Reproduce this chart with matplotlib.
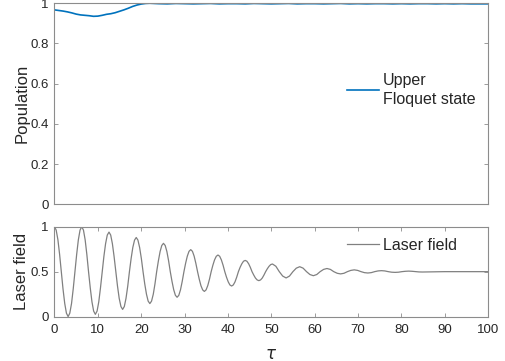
import numpy as np
import matplotlib
matplotlib.use("Agg")
import matplotlib.pyplot as plt

plt.rcParams['font.family'] = ['Liberation Sans', 'DejaVu Sans']

# Upper Floquet state population
pop_tau = [0, 1, 2, 3, 4, 5, 6, 7, 8, 9, 10, 11, 12, 13, 14, 15, 16, 17, 18, 19,
           20, 21, 22, 23, 24, 26, 28, 30, 32, 34, 36, 38, 40, 42, 44, 46, 48, 50,
           52, 54, 56, 58, 60, 62, 64, 66, 68, 70, 72, 74, 76, 78, 80, 82, 84, 86,
           88, 90, 92, 94, 96, 98, 100]
pop_val = [0.967, 0.964, 0.961, 0.957, 0.952, 0.946, 0.942, 0.940, 0.938, 0.935,
           0.936, 0.940, 0.945, 0.948, 0.953, 0.960, 0.967, 0.975, 0.984, 0.991,
           0.996, 0.999, 1.000, 0.999, 0.998, 0.997, 0.999, 0.998, 0.997, 0.998,
           0.999, 0.997, 0.998, 0.998, 0.997, 0.999, 0.998, 0.997, 0.998, 0.999,
           0.997, 0.998, 0.998, 0.997, 0.998, 0.999, 0.997, 0.998, 0.997, 0.998,
           0.998, 0.997, 0.998, 0.997, 0.998, 0.998, 0.997, 0.998, 0.997, 0.998,
           0.997, 0.997, 0.997]

# Laser field (dense where it swings, sparser later)
laser_tau = [0, 0.39, 0.79, 1.18, 1.57, 1.96, 2.36, 2.75, 3.14, 3.53, 3.93, 4.32,
             4.71, 5.11, 5.50, 5.89, 6.28, 6.68, 7.07, 7.46, 7.85, 8.25, 8.64, 9.03,
             9.42, 9.82, 10.21, 10.60, 11.00, 11.39, 11.78, 12.17, 12.57, 12.96,
             13.35, 13.74, 14.14, 14.53, 14.92, 15.32, 15.71, 16.10, 16.49, 16.89,
             17.28, 17.67, 18.06, 18.46, 18.85, 19.24, 19.63, 20.03, 20.42, 20.81,
             21.21, 21.60, 21.99, 22.38, 22.78, 23.17, 23.56, 23.96, 24.35, 24.74,
             25.13, 25.53, 25.92, 26.31, 26.70, 27.10, 27.49, 27.88, 28.27, 28.67,
             29.06, 29.45, 29.85, 30.24, 30.63, 31.02, 31.42, 31.81, 32.20, 32.59,
             32.99, 33.38, 33.77, 34.17, 34.56, 34.95, 35.34, 35.74, 36.13, 36.52,
             36.91, 37.31, 37.70, 38.09, 38.48, 38.88, 39.27, 39.66, 40.06, 40.45,
             40.84, 41.23, 41.63, 42.02, 42.41, 42.80, 43.20, 43.59, 43.98, 44.37,
             44.77, 45.16, 45.55, 45.95, 46.34, 46.73, 47.12, 47.52, 47.91, 48.30,
             48.69, 49.09, 49.48, 49.87, 50.27,
             51.05, 51.84, 52.62, 53.41, 54.19, 54.98, 55.76, 56.55, 57.33, 58.12,
             58.90, 59.69, 60.48, 61.26, 62.05, 62.83, 63.62, 64.40, 65.19, 65.97,
             66.76, 67.54, 68.33, 69.12, 69.90, 70.69, 71.47, 72.26, 73.04, 73.83,
             74.61, 75.40, 76.18, 76.97, 77.75, 78.54, 79.33, 80.11, 80.90, 81.68,
             82.47, 83.25, 84.04, 84.82, 90, 95, 100]
laser_val = [1.0, 0.962, 0.854, 0.691, 0.5, 0.309, 0.146, 0.038,
             0.0, 0.038, 0.146, 0.309, 0.5, 0.691, 0.854, 0.962,
             1.0, 0.962, 0.854, 0.691, 0.5, 0.318, 0.164, 0.061,
             0.025, 0.061, 0.164, 0.318, 0.5, 0.669, 0.811, 0.907,
             0.94, 0.907, 0.811, 0.669, 0.5, 0.339, 0.203, 0.112,
             0.08, 0.112, 0.203, 0.339, 0.5, 0.646, 0.769, 0.851,
             0.88, 0.851, 0.769, 0.646, 0.5, 0.364, 0.249, 0.172,
             0.145, 0.172, 0.249, 0.364, 0.5, 0.621, 0.723, 0.791,
             0.815, 0.791, 0.723, 0.621, 0.5, 0.391, 0.299, 0.237,
             0.215, 0.237, 0.299, 0.391, 0.5, 0.594, 0.673, 0.726,
             0.745, 0.726, 0.673, 0.594, 0.5, 0.416, 0.344, 0.297,
             0.28, 0.297, 0.344, 0.416, 0.5, 0.571, 0.631, 0.671,
             0.685, 0.671, 0.631, 0.571, 0.5, 0.439, 0.387, 0.352,
             0.34, 0.352, 0.387, 0.439, 0.5, 0.548, 0.588, 0.616,
             0.625, 0.616, 0.588, 0.548, 0.5, 0.462, 0.429, 0.408,
             0.40, 0.408, 0.429, 0.462, 0.5, 0.533, 0.56, 0.579,
             0.585,
             0.56, 0.5, 0.451, 0.43, 0.451, 0.5, 0.539, 0.555, 0.539, 0.5,
             0.468, 0.455, 0.468, 0.5, 0.525, 0.535, 0.525, 0.5, 0.482, 0.475,
             0.482, 0.5, 0.514, 0.52, 0.514, 0.5, 0.489, 0.485, 0.489, 0.5,
             0.508, 0.511, 0.508, 0.5, 0.494, 0.492, 0.494, 0.5, 0.504, 0.506,
             0.504, 0.5, 0.497, 0.496, 0.5, 0.5, 0.5]

x_ticks = [0, 10, 20, 30, 40, 50, 60, 70, 80, 90, 100]
pop_ticks = [0, 0.2, 0.4, 0.6, 0.8, 1]
pop_ticklabels = ["0", "0.2", "0.4", "0.6", "0.8", "1"]
laser_ticks = [0, 0.5, 1]
laser_ticklabels = ["0", "0.5", "1"]

axis_col = "#8c8c8c"
text_col = "#262626"

fig = plt.figure(figsize=(5.06, 3.61), dpi=100)
ax1 = fig.add_axes([0.1077, 0.434, 0.857, 0.557])
ax2 = fig.add_axes([0.1077, 0.123, 0.857, 0.249])


def style(ax):
    for s in ax.spines.values():
        s.set_color(axis_col)
        s.set_linewidth(0.8)
    ax.tick_params(direction="in", length=3, width=0.6, color=axis_col,
                   labelcolor=text_col, labelsize=9.5, top=True, right=True, pad=4)
    ax.tick_params(axis="x", pad=5)


def legend(ax, y):
    leg = ax.legend(loc="center left", bbox_to_anchor=(0.674, y), frameon=False,
                    fontsize=11.5, handlelength=2.0, handletextpad=0.25,
                    borderpad=0, borderaxespad=0, labelcolor=text_col)
    for t in leg.get_texts():
        t.set_linespacing(1.3)
    return leg


ax1.plot(pop_tau, pop_val, color="#0072BD", lw=1.2, label="Upper\nFloquet state")
ax1.set_xlim(0, 100)
ax1.set_ylim(0, 1)
ax1.set_yticks(pop_ticks)
ax1.set_yticklabels(pop_ticklabels)
ax1.set_xticks([])
ax1.set_ylabel("Population", fontsize=12, color=text_col, labelpad=1)
style(ax1)
legend(ax1, 0.569)

ax2.plot(laser_tau, laser_val, color="#808080", lw=0.9, label="Laser field")
ax2.set_xlim(0, 100)
ax2.set_ylim(0, 1)
ax2.set_xticks(x_ticks)
ax2.set_yticks(laser_ticks)
ax2.set_yticklabels(laser_ticklabels)
ax2.set_xlabel(r"$\tau$", fontsize=12, color=text_col, labelpad=8)
ax2.set_ylabel("Laser field", fontsize=12, color=text_col, labelpad=1)
style(ax2)
legend(ax2, 0.796)

fig.savefig("out.png", dpi=100)
